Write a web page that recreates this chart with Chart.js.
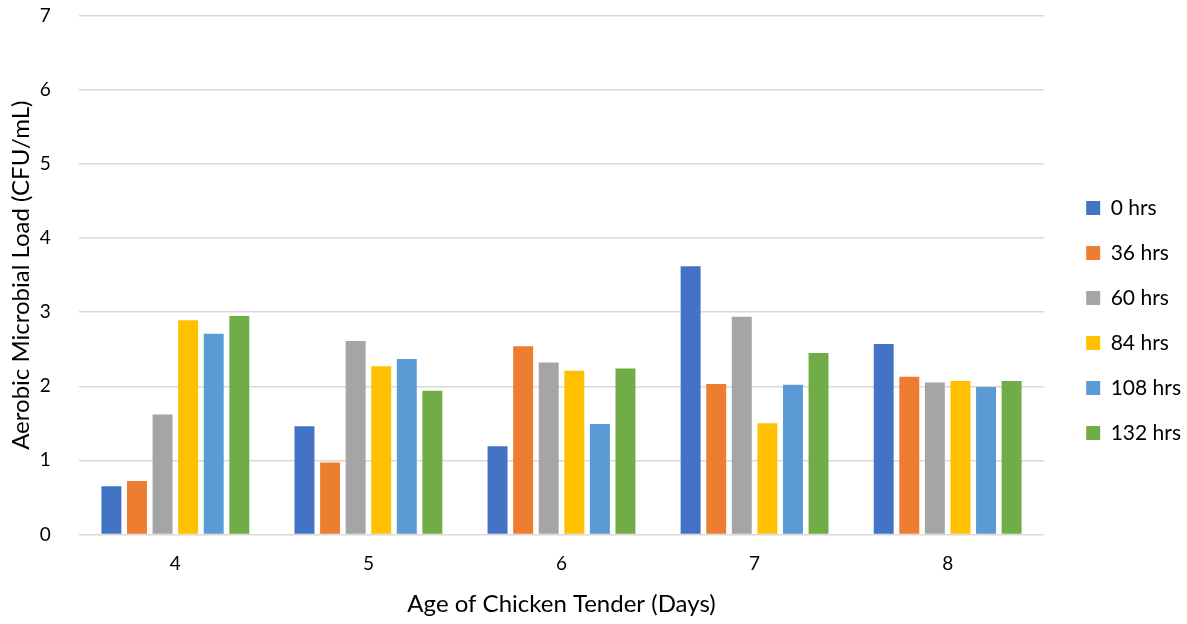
<!DOCTYPE html>
<html>
<head>
<meta charset="utf-8">
<script src="https://cdn.jsdelivr.net/npm/chart.js@4.4.1/dist/chart.umd.min.js"></script>
<style>
  html, body { margin: 0; padding: 0; background: #fff; }
  #wrap { width: 1187px; height: 624px; }
</style>
</head>
<body>
<div id="wrap"><canvas id="c" width="1187" height="624"></canvas></div>
<script>
// Age of the chicken tender, in days
const days = ['4', '5', '6', '7', '8'];

// Aerobic microbial load per storage time
const hrs0   = [0.65, 1.46, 1.19, 3.62, 2.57];
const hrs36  = [0.72, 0.97, 2.54, 2.03, 2.13];
const hrs60  = [1.62, 2.61, 2.32, 2.94, 2.05];
const hrs84  = [2.89, 2.27, 2.21, 1.50, 2.07];
const hrs108 = [2.71, 2.37, 1.49, 2.02, 1.99];
const hrs132 = [2.95, 1.94, 2.24, 2.45, 2.07];

const seriesNames = ['0 hrs', '36 hrs', '60 hrs', '84 hrs', '108 hrs', '132 hrs'];
const seriesValues = [hrs0, hrs36, hrs60, hrs84, hrs108, hrs132];
const seriesColors = ['#4472C4', '#ED7D31', '#A5A5A5', '#FFC000', '#5B9BD5', '#70AD47'];

const yTicks = [0, 1, 2, 3, 4, 5, 6, 7];

const FONT = 'Lato, "Open Sans", sans-serif';
const TEXT = '#000';

new Chart(document.getElementById('c'), {
  type: 'bar',
  data: {
    labels: days,
    datasets: seriesNames.map((name, i) => ({
      label: name,
      data: seriesValues[i],
      backgroundColor: seriesColors[i],
      borderWidth: 0,
      categoryPercentage: 0.795,
      barPercentage: 0.78
    }))
  },
  options: {
    responsive: false,
    animation: false,
    devicePixelRatio: 1,
    layout: { padding: { top: 0, right: -4, left: 6, bottom: 5 } },
    plugins: {
      tooltip: { enabled: false },
      legend: {
        position: 'right',
        title: { display: true, text: ' ', font: { size: 10 }, padding: 5 },
        labels: {
          font: { family: FONT, size: 21 },
          color: TEXT,
          boxWidth: 14,
          boxHeight: 14,
          padding: 24
        }
      }
    },
    scales: {
      x: {
        grid: { display: false, drawTicks: false },
        border: { display: false },
        ticks: { font: { family: FONT, size: 19 }, color: TEXT, padding: 18 },
        title: { display: true, text: 'Age of Chicken Tender (Days)', font: { family: FONT, size: 24 }, color: TEXT, padding: { top: -3, bottom: 0 } }
      },
      y: {
        min: 0,
        max: 7,
        afterBuildTicks: (scale) => { scale.ticks = yTicks.map(v => ({ value: v })); },
        afterFit: (scale) => { scale.paddingTop = 16; scale.paddingBottom = 0; },
        grid: { color: '#d9d9d9', lineWidth: 1.5, drawTicks: false },
        border: { display: false },
        ticks: { font: { family: FONT, size: 19 }, color: TEXT, padding: 28 },
        title: { display: true, text: 'Aerobic Microbial Load (CFU/mL)', font: { family: FONT, size: 24 }, color: TEXT, padding: { top: 1, bottom: -24 } }
      },
      // empty spacer between the plot and the legend
      gap: {
        type: 'linear',
        position: 'right',
        display: true,
        grid: { display: false, drawTicks: false },
        border: { display: false },
        ticks: { display: false },
        afterFit: (scale) => { scale.width = 18; }
      }
    }
  }
});
</script>
</body>
</html>
